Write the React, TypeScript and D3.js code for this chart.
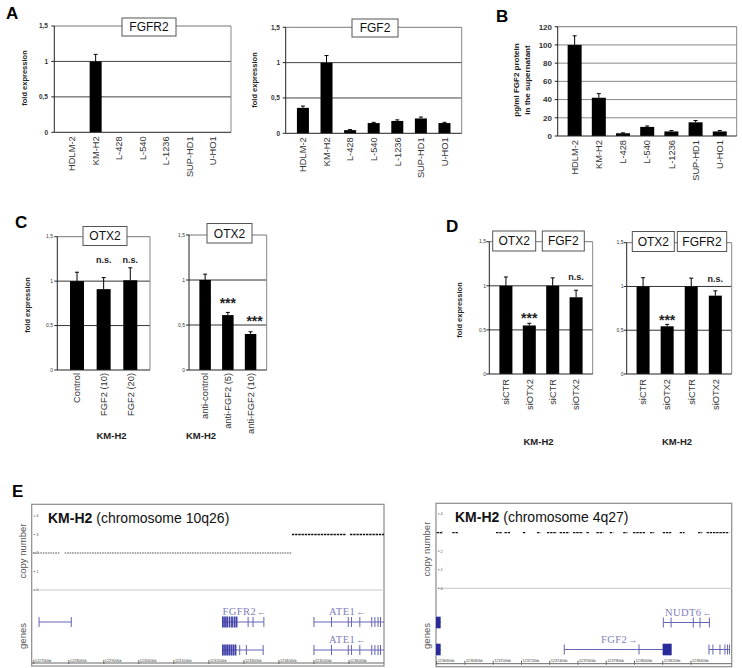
import React from "react";
import * as d3 from "d3";

// ---------- DATA ----------
const cellLines = ["HDLM-2", "KM-H2", "L-428", "L-540", "L-1236", "SUP-HD1", "U-HO1"];
const fgfr2Expr = [0, 1.0, 0, 0, 0, 0, 0];
const fgfr2Err = [0, 0.1, 0, 0, 0, 0, 0];
const fgf2Expr = [0.36, 1.0, 0.045, 0.145, 0.175, 0.21, 0.145];
const fgf2Err = [0.025, 0.1, 0.008, 0.01, 0.015, 0.02, 0.01];
const fgf2Protein = [100, 42, 3, 10, 5, 15, 5];
const fgf2ProteinErr = [10, 4.5, 0.5, 1, 1, 2, 1];
const aTicks = [0, 0.5, 1, 1.5];
const aTickLabels = ["0", "0,5", "1", "1,5"];
const bTicks = [0, 20, 40, 60, 80, 100, 120];

const fgf2Treat = ["Control", "FGF2 (10)", "FGF2 (20)"];
const otx2Fgf2 = [1.0, 0.91, 1.01];
const otx2Fgf2Err = [0.1, 0.13, 0.14];
const antiTreat = ["anti-control", "anti-FGF2 (5)", "anti-FGF2 (10)"];
const otx2Anti = [1.0, 0.61, 0.4];
const otx2AntiErr = [0.065, 0.03, 0.025];

const siRNA = ["siCTR", "siOTX2", "siCTR", "siOTX2"];
const kdFgf2 = [1.0, 0.55, 1.0, 0.87];
const kdFgf2Err = [0.1, 0.025, 0.09, 0.08];
const kdFgfr2 = [1.0, 0.545, 1.0, 0.895];
const kdFgfr2Err = [0.1, 0.022, 0.095, 0.055];
const cTickLabels = ["0", "0,5", "1", "1,5"];

// Panel E – genomic coordinates in kb
const chr10Ticks = [122700, 122800, 122900, 123000, 123100, 123200, 123300, 123400, 123500, 123600];
const chr4Ticks = [123660, 123680, 123700, 123720, 123740, 123760, 123780, 123800, 123820, 123840];
const cnTicks = [0, 1, 2, 3, 4];
// copy number segments [start, end, cn]
const cnChr10: [number, number, number][] = [
  [122697, 122774, 2], [122788, 123437, 2],
  [123437, 123592, 3], [123603, 123700, 3],
];
const cnChr4: [number, number, number][] = [
  [123660, 123663.5, 3], [123671, 123675, 3], [123702, 123706, 3], [123708, 123712, 3],
  [123721, 123723, 3], [123731, 123733.5, 3], [123738, 123745, 3], [123747, 123754, 3],
  [123756.5, 123763.6, 3], [123766, 123768, 3], [123773, 123778, 3], [123782.5, 123785, 3],
  [123792, 123795, 3], [123799, 123808, 3], [123811, 123814, 3], [123820, 123826, 3],
  [123832, 123835.5, 3], [123845, 123848, 3], [123851, 123867, 3],
];

type Gene = {
  row: number; start: number; end: number; exons: number[];
  blocks?: [number, number][]; label?: string; labelAt?: number; dir?: number; dense?: number[];
};
const genesChr10: Gene[] = [
  { row: 0, start: 122715, end: 122807, exons: [122715, 122807] },
  { row: 0, start: 123239, end: 123357, exons: [123312, 123326, 123357],
    dense: [123240, 123246, 123252, 123259, 123266, 123273, 123279], label: "FGFR2", labelAt: 123239, dir: -1 },
  { row: 1, start: 123239, end: 123355, exons: [123288, 123307, 123355],
    dense: [123240, 123246, 123252, 123258, 123264, 123270, 123276] },
  { row: 0, start: 123500, end: 123700, exons: [123500, 123550, 123598, 123607, 123631, 123665, 123674, 123683, 123690],
    label: "ATE1", labelAt: 123543, dir: -1 },
  { row: 1, start: 123500, end: 123700, exons: [123500, 123550, 123598, 123607, 123631, 123665, 123674, 123683, 123690],
    label: "ATE1", labelAt: 123543, dir: -1 },
];
const genesChr4: Gene[] = [
  { row: 0, start: 123659.5, end: 123662.8, exons: [], blocks: [[123659.5, 123662.8]] },
  { row: 1, start: 123659.5, end: 123662.8, exons: [], blocks: [[123659.5, 123662.8]] },
  { row: 0, start: 123820.4, end: 123853, exons: [123820.4, 123825.9, 123841.6, 123846.4, 123853],
    label: "NUDT6", labelAt: 123821.6, dir: -1 },
  { row: 1, start: 123750.3, end: 123820, exons: [123750.3, 123803.2], blocks: [[123819.9, 123826.3]],
    label: "FGF2", labelAt: 123776.3, dir: 1 },
  { row: 1, start: 123852.7, end: 123867.6, exons: [123852.7, 123855.5, 123860.5, 123864, 123865.8, 123867.2] },
];

const FONT = "'Liberation Sans', Arial, Helvetica, sans-serif";
const SERIF = "'Liberation Serif', 'Times New Roman', serif";

type Box = { text: string; x0: number; x1: number };
type Note = { i: number; text: string; y: number; dx?: number; size: number };

function BarPanel(p: {
  left: number; right: number; top: number; bottom: number; yMax: number;
  ticks: number[]; tickLabels: string[]; tickX: number; tickSize: number; tickBold?: boolean;
  cats: string[]; vals: number[]; errs: number[]; pad: number; barW: number;
  labelSize: number; labelGap: number; grid: number[]; gridColor: string;
  boxes: Box[]; boxTop: number; boxH: number; boxFont: number; notes?: Note[];
}) {
  const y = d3.scaleLinear().domain([0, p.yMax]).range([p.bottom, p.top]);
  const x = d3.scalePoint<number>().domain(d3.range(p.cats.length)).range([p.left, p.right]).padding(p.pad);
  return (
    <g>
      {p.grid.map((v) => (
        <line key={"g" + v} x1={p.left} x2={p.right} y1={y(v)} y2={y(v)} stroke={p.gridColor} strokeWidth={1} />
      ))}
      <line x1={p.left} x2={p.right} y1={y(p.yMax)} y2={y(p.yMax)} stroke="#777" />
      <line x1={p.right} x2={p.right} y1={y(p.yMax)} y2={p.bottom} stroke="#888" />
      {p.vals.map((v, i) =>
        v > 0 ? (
          <g key={"b" + i}>
            <rect x={(x(i) as number) - p.barW / 2} y={y(v)} width={p.barW} height={p.bottom - y(v)} fill="#000" />
            {p.errs[i] > 0 && (
              <g stroke="#000" strokeWidth={1}>
                <line x1={x(i)} x2={x(i)} y1={y(v)} y2={y(v + p.errs[i])} />
                <line x1={(x(i) as number) - 2} x2={(x(i) as number) + 2} y1={y(v + p.errs[i])} y2={y(v + p.errs[i])} />
              </g>
            )}
          </g>
        ) : null
      )}
      <line x1={p.left} x2={p.left} y1={y(p.yMax)} y2={p.bottom} stroke="#222" />
      <line x1={p.left} x2={p.right} y1={p.bottom} y2={p.bottom} stroke="#222" />
      {p.ticks.map((t, k) => (
        <g key={"t" + t}>
          <line x1={p.left - 3} x2={p.left} y1={y(t)} y2={y(t)} stroke="#222" />
          <text x={p.tickX} y={y(t)} dy="0.35em" textAnchor="end" fontSize={p.tickSize}
            fontWeight={p.tickBold ? "bold" : "normal"} fill="#333">{p.tickLabels[k]}</text>
        </g>
      ))}
      {p.cats.map((c, i) => (
        <text key={"l" + i} transform={`translate(${x(i)},${p.bottom + p.labelGap}) rotate(-90)`}
          textAnchor="end" dy="0.35em" fontSize={p.labelSize} fill="#333">{c}</text>
      ))}
      {p.boxes.map((b, k) => (
        <g key={"x" + k}>
          <rect x={b.x0} y={p.boxTop} width={b.x1 - b.x0} height={p.boxH} fill="#fff" stroke="#555" strokeWidth={1} />
          <text x={(b.x0 + b.x1) / 2} y={p.boxTop + p.boxH / 2} dy="0.36em" textAnchor="middle"
            fontSize={p.boxFont} fill="#111">{b.text}</text>
        </g>
      ))}
      {(p.notes || []).map((n, k) => (
        <text key={"n" + k} x={(x(n.i) as number) + (n.dx || 0)} y={n.y} textAnchor="middle"
          fontSize={n.size} fontWeight="bold" fill="#222">{n.text}</text>
      ))}
    </g>
  );
}

function GenomePanel(p: {
  left: number; right: number; top: number; bottom: number; domain: [number, number];
  axisTicks: number[]; cnZero: number; cnFour: number; title: string; titleX: number; titleY: number;
  cn: [number, number, number][]; genes: Gene[]; rows: [number, number];
}) {
  const x = d3.scaleLinear().domain(p.domain).range([p.left, p.right]);
  const y = d3.scaleLinear().domain([0, 4]).range([p.cnZero, p.cnFour]);
  const clipId = "clip" + Math.round(p.left);
  const axisY = p.bottom - 3;
  const lineCol = "#6464b4";
  return (
    <g>
      <defs>
        <clipPath id={clipId}>
          <rect x={p.left} y={p.top} width={p.right - p.left} height={p.bottom - p.top} />
        </clipPath>
      </defs>
      <rect x={p.left} y={p.top} width={p.right - p.left} height={p.bottom - p.top} fill="#fff" stroke="#8a8a8a" strokeWidth={1.2} />
      <line x1={p.left} x2={p.right} y1={y(0)} y2={y(0)} stroke="#c8c8c8" />
      {cnTicks.map((t) => (
        <g key={"c" + t}>
          <line x1={p.left + 2} x2={p.left + 3.5} y1={y(t)} y2={y(t)} stroke="#777" />
          <text x={p.left + 4.5} y={y(t)} dy="0.35em" fontSize={4} fill="#555">{t}</text>
        </g>
      ))}
      <text transform={`translate(${p.left - 6},${(y(4) + y(0)) / 2 - 2}) rotate(-90)`} textAnchor="middle"
        fontSize={9.5} fill="#555">copy number</text>
      <text transform={`translate(${p.left - 6},${(p.rows[0] + p.rows[1]) / 2}) rotate(-90)`} textAnchor="middle"
        fontSize={9.5} fill="#555">genes</text>
      <text x={p.titleX} y={p.titleY} fontSize={14} fill="#111">
        <tspan fontWeight="bold">KM-H2</tspan>
        <tspan> {p.title}</tspan>
      </text>
      <g clipPath={`url(#${clipId})`}>
        {p.cn.map((s, k) => (
          <line key={"s" + k} x1={x(s[0])} x2={x(s[1])} y1={y(s[2])} y2={y(s[2])}
            stroke={s[2] === 2 ? "#555" : "#111"}
            strokeWidth={s[2] === 2 ? 1 : 1.4} strokeDasharray={s[2] === 2 ? "1.6,0.9" : "2.4,0.8"} />
        ))}
        {p.genes.map((g, k) => {
          const ry = p.rows[g.row];
          return (
            <g key={"gene" + k}>
              <line x1={x(g.start)} x2={x(g.end)} y1={ry} y2={ry} stroke={lineCol} strokeWidth={1} />
              {g.exons.map((e, j) => (
                <line key={j} x1={x(e)} x2={x(e)} y1={ry - 5} y2={ry + 5} stroke={lineCol} strokeWidth={1} />
              ))}
              {(g.dense || []).map((e, j) => (
                <line key={"d" + j} x1={x(e)} x2={x(e)} y1={ry - 5.5} y2={ry + 5.5} stroke="#4040a8" strokeWidth={1.8} />
              ))}
              {(g.blocks || []).map((b, j) => (
                <rect key={"k" + j} x={x(b[0])} y={ry - 5.8} width={Math.max(1, x(b[1]) - x(b[0]))} height={11.6} fill="#2a2a9c" />
              ))}
              {g.label && (
                <text x={x(g.labelAt as number)} y={ry - 7} fontSize={10.5} fontFamily={SERIF} fill="#8080bc"
                  letterSpacing={0.4}>
                  {g.label}
                  <tspan fontFamily={FONT} fontSize={9} dx={1}>{(g.dir as number) < 0 ? "←" : "→"}</tspan>
                </text>
              )}
            </g>
          );
        })}
      </g>
      <line x1={p.left} x2={p.right} y1={axisY} y2={axisY} stroke="#666" />
      {p.axisTicks.map((t) => (
        <g key={"a" + t}>
          <line x1={x(t)} x2={x(t)} y1={axisY - 3} y2={axisY + 1} stroke="#666" />
          <text x={x(t) + 1} y={axisY - 1.5} fontSize={3.8} fill="#444">{t}kb</text>
        </g>
      ))}
    </g>
  );
}

export default function App() {
  return (
    <svg width={742} height={668} style={{ position: "absolute", left: 0, top: 0, background: "#fff" }} fontFamily={FONT}>
      <rect width={742} height={668} fill="#fff" />
      {/* panel letters */}
      <text x={6} y={19} fontSize={17} fontWeight="bold">A</text>
      <text x={496} y={22} fontSize={17} fontWeight="bold">B</text>
      <text x={15} y={228} fontSize={17} fontWeight="bold">C</text>
      <text x={446} y={232} fontSize={17} fontWeight="bold">D</text>
      <text x={12} y={497} fontSize={17} fontWeight="bold">E</text>

      {/* A left */}
      <text transform="translate(27,78) rotate(-90)" textAnchor="middle" fontSize={7.5} fontWeight="bold" fill="#222">fold expression</text>
      <BarPanel left={54.3} right={231} top={26} bottom={132.3} yMax={1.5} ticks={aTicks} tickLabels={aTickLabels}
        tickX={48} tickSize={6.5} tickBold cats={cellLines} vals={fgfr2Expr} errs={fgfr2Err} pad={0.76} barW={12}
        labelSize={9.3} labelGap={4} grid={[0.5, 1]} gridColor="#444"
        boxes={[{ text: "FGFR2", x0: 122, x1: 176 }]} boxTop={18} boxH={18} boxFont={12} />

      {/* A right */}
      <text transform="translate(257,80) rotate(-90)" textAnchor="middle" fontSize={7.5} fontWeight="bold" fill="#222">fold expression</text>
      <BarPanel left={285.7} right={461.7} top={27.3} bottom={133.3} yMax={1.5} ticks={aTicks} tickLabels={aTickLabels}
        tickX={280} tickSize={6.5} tickBold cats={cellLines} vals={fgf2Expr} errs={fgf2Err} pad={0.73} barW={12}
        labelSize={9.3} labelGap={4} grid={[0.5, 1]} gridColor="#444"
        boxes={[{ text: "FGF2", x0: 352, x1: 398 }]} boxTop={19} boxH={18} boxFont={12} />

      {/* B */}
      <text transform="translate(519,80) rotate(-90)" textAnchor="middle" fontSize={8} fontWeight="bold" fill="#222">pg/ml FGF2 protein</text>
      <text transform="translate(530,80) rotate(-90)" textAnchor="middle" fontSize={8} fontWeight="bold" fill="#222">in the supernatant</text>
      <BarPanel left={557.7} right={736.7} top={26.7} bottom={136} yMax={120} ticks={bTicks} tickLabels={bTicks.map(String)}
        tickX={552} tickSize={8} tickBold cats={cellLines} vals={fgf2Protein} errs={fgf2ProteinErr} pad={0.7} barW={14}
        labelSize={9.3} labelGap={4} grid={[20, 40, 60, 80, 100]} gridColor="#888"
        boxes={[]} boxTop={0} boxH={0} boxFont={12} />

      {/* C */}
      <text transform="translate(30,305) rotate(-90)" textAnchor="middle" fontSize={7.5} fontWeight="bold" fill="#222">fold expression</text>
      <BarPanel left={57.3} right={150} top={236.7} bottom={370} yMax={1.5} ticks={aTicks} tickLabels={cTickLabels}
        tickX={53} tickSize={5} cats={fgf2Treat} vals={otx2Fgf2} errs={otx2Fgf2Err} pad={0.74} barW={14}
        labelSize={9.3} labelGap={3} grid={[0.5, 1]} gridColor="#333"
        boxes={[{ text: "OTX2", x0: 83, x1: 127 }]} boxTop={226.5} boxH={19} boxFont={12}
        notes={[{ i: 1, text: "n.s.", y: 263, size: 9 }, { i: 2, text: "n.s.", y: 263, size: 9 }]} />
      <BarPanel left={189} right={266.7} top={235} bottom={370} yMax={1.5} ticks={aTicks} tickLabels={cTickLabels}
        tickX={185} tickSize={5} cats={antiTreat} vals={otx2Anti} errs={otx2AntiErr} pad={0.71} barW={11.5}
        labelSize={9.3} labelGap={3} grid={[0.5, 1]} gridColor="#333"
        boxes={[{ text: "OTX2", x0: 207, x1: 252 }]} boxTop={223.5} boxH={19.5} boxFont={12}
        notes={[{ i: 1, text: "***", y: 308, size: 14 }, { i: 2, text: "***", y: 326, dx: 4, size: 14 }]} />
      <text x={111.5} y={439} textAnchor="middle" fontSize={9.5} fontWeight="bold" fill="#222">KM-H2</text>
      <text x={201} y={439} textAnchor="middle" fontSize={9.5} fontWeight="bold" fill="#222">KM-H2</text>

      {/* D */}
      <text transform="translate(462,310) rotate(-90)" textAnchor="middle" fontSize={7.5} fontWeight="bold" fill="#222">fold expression</text>
      <BarPanel left={489.3} right={592.7} top={241.7} bottom={374} yMax={1.5} ticks={aTicks} tickLabels={cTickLabels}
        tickX={486} tickSize={5} cats={siRNA} vals={kdFgf2} errs={kdFgf2Err} pad={0.71} barW={13}
        labelSize={9.3} labelGap={5} grid={[0.5, 1]} gridColor="#333"
        boxes={[{ text: "OTX2", x0: 492.7, x1: 535.7 }, { text: "FGF2", x0: 542.3, x1: 584.3 }]} boxTop={231} boxH={20} boxFont={12}
        notes={[{ i: 1, text: "***", y: 323, size: 14 }, { i: 3, text: "n.s.", y: 280, size: 9 }]} />
      <BarPanel left={626.7} right={731.7} top={242.7} bottom={374} yMax={1.5} ticks={aTicks} tickLabels={cTickLabels}
        tickX={623.5} tickSize={5} cats={siRNA} vals={kdFgfr2} errs={kdFgfr2Err} pad={0.68} barW={13}
        labelSize={9.3} labelGap={5} grid={[0.5, 1]} gridColor="#333"
        boxes={[{ text: "OTX2", x0: 632.3, x1: 674.3 }, { text: "FGFR2", x0: 677.3, x1: 726.7 }]} boxTop={231.5} boxH={20} boxFont={12}
        notes={[{ i: 1, text: "***", y: 325, size: 14 }, { i: 3, text: "n.s.", y: 281.5, size: 9 }]} />
      <text x={538.5} y={445} textAnchor="middle" fontSize={9.5} fontWeight="bold" fill="#222">KM-H2</text>
      <text x={677} y={445} textAnchor="middle" fontSize={9.5} fontWeight="bold" fill="#222">KM-H2</text>

      {/* E */}
      <GenomePanel left={31.7} right={384} top={504.3} bottom={666} domain={[122694, 123700]}
        axisTicks={chr10Ticks} cnZero={590} cnFour={516} title="(chromosome 10q26)" titleX={48} titleY={523}
        cn={cnChr10} genes={genesChr10} rows={[622, 650]} />
      <GenomePanel left={436} right={731.7} top={503.3} bottom={666.7} domain={[123659.5, 123868.8]}
        axisTicks={chr4Ticks} cnZero={588.3} cnFour={514} title="(chromosome 4q27)" titleX={455} titleY={522}
        cn={cnChr4} genes={genesChr4} rows={[622.5, 649.5]} />
    </svg>
  );
}
